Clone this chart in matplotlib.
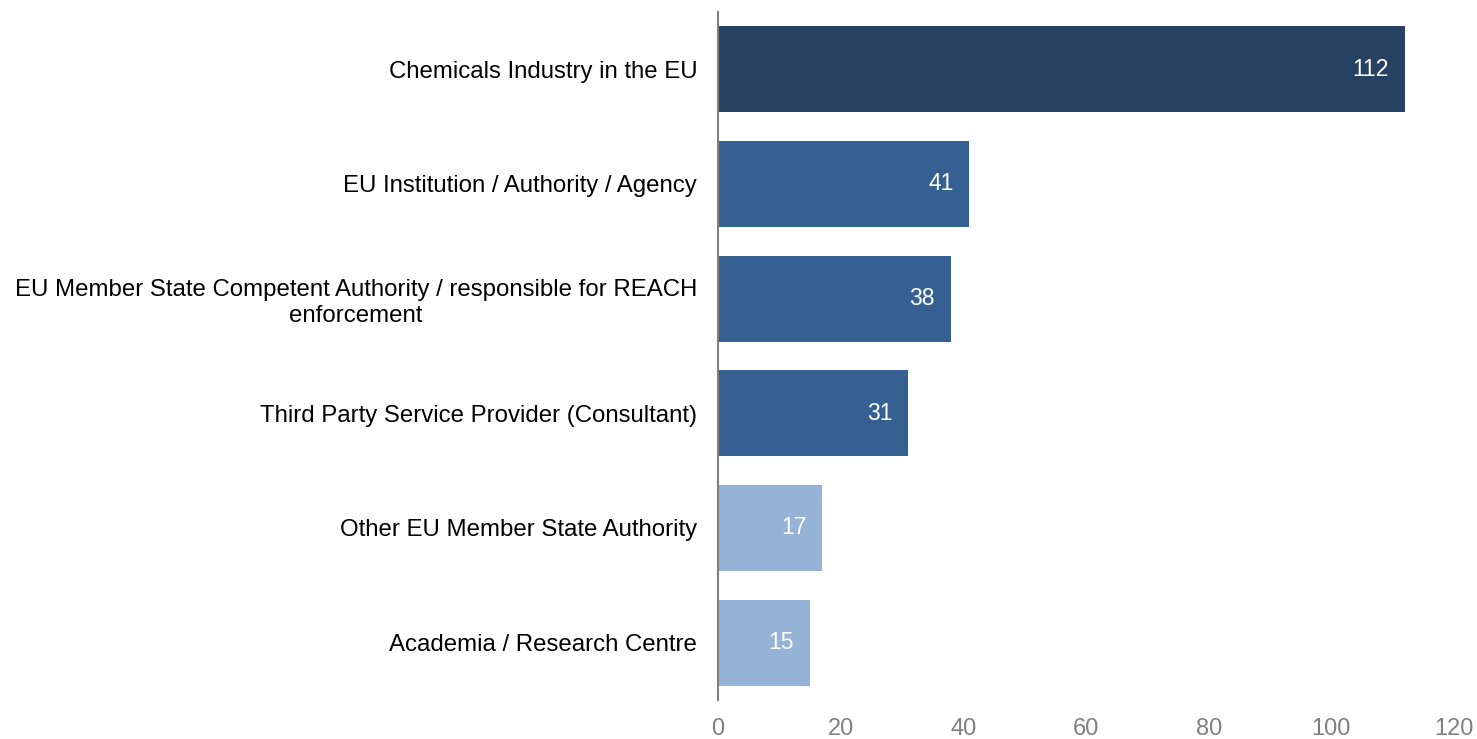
import matplotlib.pyplot as plt

categories = [
    'Chemicals Industry in the EU',
    'EU Institution / Authority / Agency',
    'EU Member State Competent Authority / responsible for REACH\nenforcement',
    'Third Party Service Provider (Consultant)',
    'Other EU Member State Authority',
    'Academia / Research Centre',
]
values = [112, 41, 38, 31, 17, 15]
colors = ['#274162', '#366092', '#366092', '#366092', '#95B3D7', '#95B3D7']
xticks = [0, 20, 40, 60, 80, 100, 120]

plt.rcParams['font.family'] = ['Liberation Sans', 'DejaVu Sans']

fig = plt.figure(figsize=(14.77, 7.39), dpi=100)
ax = fig.add_axes([0.4861, 0.0528, 0.4983, 0.9310])

y = list(range(len(categories)))
ax.barh(y, values, height=0.75, color=colors)
for yi, v in zip(y, values):
    ax.text(v - 2.6, yi, str(v), ha='right', va='center', color='white', fontsize=16.5)

ax.set_ylim(5.5, -0.5)
ax.set_xlim(0, 120)
ax.set_yticks(y)
ax.set_yticklabels(categories, fontsize=17.3, ha='right', multialignment='center',
                   linespacing=1.25)
ax.set_xticks(xticks)
ax.set_xticklabels([str(t) for t in xticks], fontsize=17, color='#808080')
ax.tick_params(axis='both', length=0)
ax.tick_params(axis='x', pad=13)
ax.tick_params(axis='y', pad=15)

for side in ['top', 'right', 'bottom']:
    ax.spines[side].set_visible(False)
ax.spines['left'].set_color('#808080')
ax.spines['left'].set_linewidth(1.5)

fig.savefig('out.png', dpi=100)
